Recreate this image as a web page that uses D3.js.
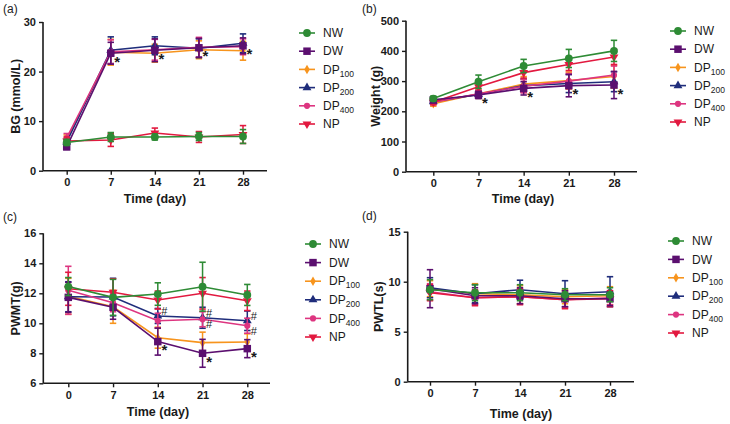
<!DOCTYPE html>
<html><head><meta charset="utf-8">
<script src="https://cdn.jsdelivr.net/npm/d3@7"></script>
<style>
body{margin:0;background:#fff;}
svg{display:block;font-family:"Liberation Sans",Arial,Helvetica,sans-serif;}
</style></head>
<body><svg id="c" width="730" height="424"></svg>
<script>
// ---------- DATA ----------
const days = [0, 7, 14, 21, 28];
const seriesNames = ["NW", "DW", "DP100", "DP200", "DP400", "NP"];

const bgMean = {
  NW:    [5.7, 6.8, 6.8, 6.9, 6.9],
  DW:    [4.8, 23.7, 24.3, 24.8, 25.2],
  DP100: [6.3, 23.9, 23.7, 24.4, 24.2],
  DP200: [5.8, 24.3, 25.2, 24.7, 25.7],
  DP400: [6.6, 24.0, 24.4, 24.9, 25.0],
  NP:    [6.0, 6.2, 7.6, 6.8, 7.3]
};
const bgSD = {
  NW:    [0.6, 0.9, 0.6, 0.8, 1.4],
  DW:    [0.5, 2.2, 2.3, 1.9, 1.6],
  DP100: [0.9, 2.6, 1.8, 1.8, 1.9],
  DP200: [0.6, 2.7, 1.8, 1.9, 1.9],
  DP400: [0.9, 2.4, 2.1, 2.0, 1.6],
  NP:    [0.8, 1.3, 1.0, 1.1, 1.8]
};
const wtMean = {
  NW:    [242, 298, 350, 375, 400],
  DW:    [238, 254, 276, 285, 287],
  DP100: [225, 258, 290, 302, 315],
  DP200: [232, 256, 285, 292, 298],
  DP400: [230, 258, 283, 300, 320],
  NP:    [230, 281, 328, 355, 380]
};
const wtSD = {
  NW:    [8, 22, 22, 30, 35],
  DW:    [10, 12, 22, 37, 45],
  DP100: [8, 15, 25, 28, 38],
  DP200: [8, 12, 22, 30, 33],
  DP400: [8, 12, 22, 25, 30],
  NP:    [8, 15, 18, 20, 25]
};
const pwmtMean = {
  NW:    [12.45, 11.73, 11.95, 12.44, 11.89],
  DW:    [11.73, 11.07, 8.78, 8.0, 8.31],
  DP100: [11.8, 11.1, 9.04, 8.71, 8.75],
  DP200: [11.77, 11.75, 10.49, 10.37, 10.17],
  DP400: [12.2, 11.37, 10.17, 10.27, 9.84],
  NP:    [12.3, 12.07, 11.55, 12.0, 11.5]
};
const pwmtSD = {
  NW:    [0.6, 1.2, 0.75, 1.63, 0.7],
  DW:    [1.0, 0.8, 0.9, 0.93, 0.6],
  DP100: [1.2, 1.1, 0.7, 0.7, 0.55],
  DP200: [1.0, 1.25, 0.5, 0.7, 0.65],
  DP400: [1.6, 0.6, 0.5, 0.5, 0.5],
  NP:    [1.1, 0.9, 0.6, 1.05, 0.65]
};
const pwtlMean = {
  NW:    [9.2, 8.9, 8.9, 8.7, 8.7],
  DW:    [9.3, 8.6, 8.6, 8.3, 8.3],
  DP100: [9.3, 8.8, 8.7, 8.5, 8.6],
  DP200: [9.4, 8.8, 9.2, 8.8, 9.0],
  DP400: [9.0, 8.4, 8.5, 8.2, 8.4],
  NP:    [8.9, 8.4, 8.5, 8.2, 8.3]
};
const pwtlSD = {
  NW:    [1.0, 0.8, 0.8, 0.6, 0.7],
  DW:    [1.9, 0.8, 0.8, 0.8, 0.7],
  DP100: [0.8, 1.0, 0.9, 0.7, 0.9],
  DP200: [1.0, 0.9, 0.95, 1.3, 1.5],
  DP400: [0.8, 0.7, 0.7, 0.8, 0.7],
  NP:    [0.8, 0.8, 0.8, 0.9, 0.8]
};

const bgTicks = [0, 10, 20, 30];
const wtTicks = [0, 100, 200, 300, 400, 500];
const pwmtTicks = [6, 8, 10, 12, 14, 16];
const pwtlTicks = [0, 5, 10, 15];

// significance marks: day, series, symbol
const marksA = [{day:7,s:"DW",sym:"*"},{day:14,s:"DW",sym:"*"},{day:21,s:"DW",sym:"*"},{day:28,s:"DW",sym:"*"}];
const marksB = [{day:7,s:"DW",sym:"*"},{day:14,s:"DW",sym:"*"},{day:21,s:"DW",sym:"*"},{day:28,s:"DW",sym:"*"}];
const marksC = [{day:14,s:"DW",sym:"*"},{day:21,s:"DW",sym:"*"},{day:28,s:"DW",sym:"*"},
                {day:14,s:"DP200",sym:"#"},{day:21,s:"DP200",sym:"#"},{day:28,s:"DP200",sym:"#"},
                {day:21,s:"DP400",sym:"#"},{day:28,s:"DP400",sym:"#"}];
const marksD = [];

// ---------- STYLE ----------
const colors = {NW:"#2e8b35", DW:"#5b0f6f", DP100:"#f7941d", DP200:"#1f2d7b", DP400:"#dd3580", NP:"#e2193f"};
const shapes = {NW:d3.symbolCircle, DW:d3.symbolSquare, DP100:d3.symbolDiamond, DP200:d3.symbolTriangle, DP400:d3.symbolCircle, NP:"tri-down"};
const sizes = {NW:48, DW:56, DP100:26, DP200:34, DP400:30, NP:34};
const drawOrder = ["DP100","DP200","DP400","NP","DW","NW"];

const panels = [
  {label:"(a)", lx:3, ly:13, left:43, right:267, top:22, bottom:170.7, x0:66.7, x28:243,
   domain:[0,30], ticks:bgTicks, mean:bgMean, sd:bgSD, ytitle:"BG (mmol/L)", ytx:16, xty:199, xtx:155,
   legX:299, legY:33, legStep:18.2, marks:marksA},
  {label:"(b)", lx:362, ly:13, left:406, right:637, top:20.7, bottom:171.7, x0:433.3, x28:614,
   domain:[0,500], ticks:wtTicks, mean:wtMean, sd:wtSD, ytitle:"Weight (g)", ytx:376, xty:199, xtx:523,
   legX:670, legY:31, legStep:18.2, marks:marksB},
  {label:"(c)", lx:3, ly:221, left:43.3, right:270, top:233.3, bottom:383.3, x0:68.3, x28:247.3,
   domain:[6,16], ticks:pwmtTicks, mean:pwmtMean, sd:pwmtSD, ytitle:"PWMT(g)", ytx:16, xty:412, xtx:158,
   legX:305, legY:244, legStep:18.6, marks:marksC},
  {label:"(d)", lx:362, ly:220, left:407.7, right:634, top:231.7, bottom:381.7, x0:430, x28:610,
   domain:[0,15], ticks:pwtlTicks, mean:pwtlMean, sd:pwtlSD, ytitle:"PWTL(s)", ytx:379, xty:414, xtx:521,
   legX:668, legY:241, legStep:18.4, marks:marksD}
];

const svg = d3.select("#c");
svg.append("rect").attr("width",730).attr("height",424).attr("fill","#fff");

function markerPath(s){
  if (shapes[s] === "tri-down") {
    return d3.symbol().type(d3.symbolTriangle).size(sizes[s])();
  }
  return d3.symbol().type(shapes[s]).size(sizes[s])();
}
function markerTransform(s,x,y){
  return shapes[s]==="tri-down" ? `translate(${x},${y}) rotate(180)` : `translate(${x},${y})`;
}

panels.forEach(p => {
  const g = svg.append("g");
  const x = d3.scaleLinear().domain([0,28]).range([p.x0,p.x28]);
  const y = d3.scaleLinear().domain(p.domain).range([p.bottom,p.top]);

  // panel label
  g.append("text").attr("x",p.lx).attr("y",p.ly).attr("font-size",12).attr("fill","#222").text(p.label);

  // axes
  const xAxis = d3.axisBottom(x).tickValues(days).tickSize(4).tickSizeOuter(0).tickPadding(4);
  const gx = g.append("g").attr("transform",`translate(0,${p.bottom})`).call(xAxis);
  gx.select(".domain").remove();
  gx.append("line").attr("x1",p.left).attr("x2",p.right).attr("y1",0).attr("y2",0)
    .attr("stroke","#1a1a1a").attr("stroke-width",1.6);
  const yAxis = d3.axisLeft(y).tickValues(p.ticks).tickSize(4).tickSizeOuter(0).tickPadding(3);
  const gy = g.append("g").attr("transform",`translate(${p.left},0)`).call(yAxis);
  gy.select(".domain").remove();
  gy.append("line").attr("x1",0).attr("x2",0).attr("y1",p.top).attr("y2",p.bottom)
    .attr("stroke","#1a1a1a").attr("stroke-width",1.6);
  [gx,gy].forEach(a=>{
    a.selectAll(".tick line").attr("stroke","#1a1a1a").attr("stroke-width",1.4);
    a.selectAll(".tick text").attr("font-size",11).attr("font-weight","bold").attr("fill","#1a1a1a")
      .attr("font-family","'Liberation Sans',Arial,sans-serif");
  });

  // titles
  g.append("text").attr("x",p.xtx).attr("y",p.xty).attr("text-anchor","middle").attr("dominant-baseline","central")
    .attr("font-size",12.5).attr("font-weight","bold").attr("fill","#1a1a1a").text("Time (day)");
  g.append("text").attr("transform",`translate(${p.ytx},${(p.top+p.bottom)/2}) rotate(-90)`)
    .attr("text-anchor","middle").attr("dominant-baseline","central")
    .attr("font-size",12.5).attr("font-weight","bold").attr("fill","#1a1a1a").text(p.ytitle);

  // series
  drawOrder.forEach(s => {
    const m = p.mean[s], sd = p.sd[s], c = colors[s];
    const pts = days.map((d,i)=>({d, v:m[i], e:sd[i]}));
    const sg = g.append("g");
    // error bars
    pts.forEach(pt=>{
      const xx = x(pt.d), y1 = y(pt.v+pt.e), y2 = y(pt.v-pt.e);
      sg.append("line").attr("x1",xx).attr("x2",xx).attr("y1",y1).attr("y2",y2).attr("stroke",c).attr("stroke-width",1.5);
      [y1,y2].forEach(yy=>sg.append("line").attr("x1",xx-3.2).attr("x2",xx+3.2).attr("y1",yy).attr("y2",yy)
        .attr("stroke",c).attr("stroke-width",1.6));
    });
    sg.append("path").datum(pts)
      .attr("d", d3.line().x(pt=>x(pt.d)).y(pt=>y(pt.v)))
      .attr("fill","none").attr("stroke",c).attr("stroke-width",1.6);
    pts.forEach(pt=>{
      sg.append("path").attr("d",markerPath(s)).attr("transform",markerTransform(s,x(pt.d),y(pt.v))).attr("fill",c);
    });
  });

  // significance marks
  p.marks.forEach(mk=>{
    const i = days.indexOf(mk.day);
    const px = x(mk.day), py = y(p.mean[mk.s][i]);
    if (mk.sym==="*") {
      g.append("text").attr("x",px+6.5).attr("y",py+5+8.5).attr("text-anchor","middle")
        .attr("font-size",15).attr("font-weight","bold").attr("fill","#1a1a1a").text("*");
    } else {
      const dy = mk.s==="DP200" ? -5 : 5;
      g.append("text").attr("x",px+6.5).attr("y",py+dy).attr("text-anchor","middle").attr("dominant-baseline","central")
        .attr("font-size",11).attr("fill","#1a1a1a").text("#");
    }
  });

  // legend
  seriesNames.forEach((s,i)=>{
    const ly = p.legY + i*p.legStep;
    const c = colors[s];
    g.append("line").attr("x1",p.legX).attr("x2",p.legX+16).attr("y1",ly).attr("y2",ly).attr("stroke",c).attr("stroke-width",1.6);
    g.append("path").attr("d",markerPath(s)).attr("transform",markerTransform(s,p.legX+8,ly)).attr("fill",c);
    const mt = s.match(/^([A-Z]+)(\d*)$/);
    const t = g.append("text").attr("x",p.legX+24).attr("y",ly+4.2).attr("font-size",12).attr("fill","#1a1a1a");
    t.append("tspan").text(mt[1]);
    if (mt[2]) t.append("tspan").attr("font-size",8.5).attr("dy",3).text(mt[2]);
  });
});
</script></body></html>
